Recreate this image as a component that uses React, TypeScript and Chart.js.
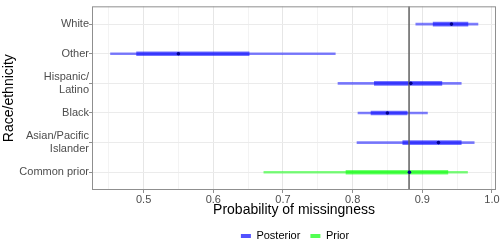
import React, { useEffect, useRef } from "react";
import { Chart, registerables } from "chart.js";

Chart.register(...registerables);

// ---- data ----
const categories: (string | string[])[] = [
  "White",
  "Other",
  ["Hispanic/", "Latino"],
  "Black",
  ["Asian/Pacific", "Islander"],
  "Common prior",
];
// posterior groups (indices 0..4), prior (index 5)
const outerLow = [0.8907, 0.4525, 0.779, 0.8077, 0.8063, 0.6726];
const outerHigh = [0.9799, 0.7751, 0.9559, 0.9074, 0.9745, 0.9649];
const innerLow = [0.9156, 0.4899, 0.8312, 0.8264, 0.872, 0.7905];
const innerHigh = [0.9655, 0.6514, 0.9281, 0.8782, 0.9559, 0.9367];
const medians = [0.9419, 0.5499, 0.8835, 0.8499, 0.9232, 0.8815];
const refLine = 0.881;
const xMajorTicks = [0.5, 0.6, 0.7, 0.8, 0.9, 1.0];
const xMinorTicks = [0.45, 0.55, 0.65, 0.75, 0.85, 0.95];
const legendLabels = ["Posterior", "Prior"];

const X_MIN = 0.4259;
const X_MAX = 1.0058;

const BLUE_THIN = "rgba(0,0,255,0.5)";
const BLUE_THICK = "rgba(0,0,255,0.55)";
const GREEN_THIN = "rgba(0,255,0,0.5)";
const GREEN_THICK = "rgba(0,255,0,0.55)";

const FONT = "'Liberation Sans', Arial, Helvetica, sans-serif";

export default function App() {
  const canvasRef = useRef<HTMLCanvasElement | null>(null);

  useEffect(() => {
    document.body.style.margin = "0";
    const canvas = canvasRef.current;
    if (!canvas) return;

    const postIdx = [0, 1, 2, 3, 4];
    const priorIdx = [5];

    const panelBorder = {
      id: "panelBorder",
      afterDraw(chart: any) {
        const { ctx, chartArea } = chart;
        ctx.save();
        ctx.strokeStyle = "#8f8f8f";
        ctx.lineWidth = 1;
        ctx.strokeRect(
          chartArea.left + 0.5,
          chartArea.top + 0.5,
          chartArea.right - chartArea.left - 1,
          chartArea.bottom - chartArea.top - 1
        );
        ctx.restore();
      },
    };

    const legendShift = {
      id: "legendShift",
      afterLayout(chart: any) {
        const lg = chart.legend;
        if (!lg) return;
        lg.left += 47;
        lg.right += 47;
        lg.top += 1.5;
        lg.bottom += 1.5;
      },
    };

    const chart = new Chart(canvas, {
      type: "bar",
      data: {
        datasets: [
          {
            type: "scatter",
            label: "median",
            data: medians.map((m, i) => ({ x: m, y: i })),
            pointRadius: 1.8,
            pointBackgroundColor: "#00008b",
            pointBorderWidth: 0,
            order: 0,
          } as any,
          {
            type: "line",
            label: "ref",
            data: [
              { x: refLine, y: -0.6 },
              { x: refLine, y: 5.6 },
            ],
            borderColor: "#5f5f5f",
            borderWidth: 1.5,
            pointRadius: 0,
            order: 1,
          } as any,
          {
            label: "postInner",
            data: postIdx.map((i) => ({ y: i, x: [innerLow[i], innerHigh[i]] })),
            backgroundColor: BLUE_THICK,
            barThickness: 4,
            grouped: false,
            order: 2,
          } as any,
          {
            label: "priorInner",
            data: priorIdx.map((i) => ({ y: i, x: [innerLow[i], innerHigh[i]] })),
            backgroundColor: GREEN_THICK,
            barThickness: 4,
            grouped: false,
            order: 2,
          } as any,
          {
            label: "postOuter",
            data: postIdx.map((i) => ({ y: i, x: [outerLow[i], outerHigh[i]] })),
            backgroundColor: BLUE_THIN,
            barThickness: 2,
            grouped: false,
            order: 3,
          } as any,
          {
            label: "priorOuter",
            data: priorIdx.map((i) => ({ y: i, x: [outerLow[i], outerHigh[i]] })),
            backgroundColor: GREEN_THIN,
            barThickness: 2,
            grouped: false,
            order: 3,
          } as any,
        ],
      },
      options: {
        animation: false,
        responsive: false,
        indexAxis: "y",
        layout: { padding: { top: 3, right: 4, left: 0, bottom: 0 } },
        plugins: {
          tooltip: { enabled: false },
          legend: {
            position: "bottom",
            labels: {
              boxWidth: 10,
              boxHeight: 4,
              padding: 10,
              color: "#000",
              font: { family: FONT, size: 11 },
              generateLabels: () => [
                {
                  text: legendLabels[0],
                  fillStyle: "rgba(0,0,255,0.68)",
                  strokeStyle: "rgba(0,0,255,0)",
                  lineWidth: 0,
                  hidden: false,
                  fontColor: "#000",
                } as any,
                {
                  text: legendLabels[1],
                  fillStyle: "rgba(0,255,0,0.68)",
                  strokeStyle: "rgba(0,255,0,0)",
                  lineWidth: 0,
                  hidden: false,
                  fontColor: "#000",
                } as any,
              ],
            },
          },
        },
        scales: {
          x: {
            type: "linear",
            min: X_MIN,
            max: X_MAX,
            offset: false,
            afterBuildTicks: (scale: any) => {
              scale.ticks = [...xMinorTicks, ...xMajorTicks]
                .sort((a, b) => a - b)
                .map((v) => ({ value: v }));
            },
            afterFit: (scale: any) => {
              scale.height = 29;
            },
            ticks: {
              autoSkip: false,
              maxRotation: 0,
              padding: 0,
              color: "#4d4d4d",
              font: { family: FONT, size: 11 },
              callback: (v: any) => {
                const n = Number(v);
                return xMajorTicks.some((t) => Math.abs(t - n) < 1e-6) ? n.toFixed(1) : "";
              },
            },
            grid: {
              offset: false,
              color: (ctx: any) => {
                const n = ctx.tick ? ctx.tick.value : 0;
                return xMajorTicks.some((t) => Math.abs(t - n) < 1e-6) ? "#e6e6e6" : "#f3f3f3";
              },
              tickColor: (ctx: any) => {
                const n = ctx.tick ? ctx.tick.value : 0;
                return xMajorTicks.some((t) => Math.abs(t - n) < 1e-6) ? "#8f8f8f" : "rgba(0,0,0,0)";
              },
              tickLength: 3,
              lineWidth: 1,
            },
            border: { display: false },
            title: {
              display: true,
              text: "Probability of missingness",
              color: "#000",
              font: { family: FONT, size: 14 },
              padding: { top: 0, bottom: 0.6 },
            },
          },
          y: {
            type: "linear",
            min: -0.6,
            max: 5.6,
            reverse: true,
            offset: false,
            afterBuildTicks: (scale: any) => {
              scale.ticks = categories.map((_, i) => ({ value: i }));
            },
            afterFit: (scale: any) => {
              scale.width = 92;
            },
            ticks: {
              autoSkip: false,
              padding: 0,
              color: "#4d4d4d",
              font: { family: FONT, size: 11, lineHeight: 1.15 },
              callback: (v: any) => categories[Math.round(Number(v))] as any,
            },
            grid: {
              offset: false,
              color: "#ebebeb",
              tickColor: "#8f8f8f",
              tickLength: 3,
              lineWidth: 1,
            },
            border: { display: false },
            title: {
              display: true,
              text: "Race/ethnicity",
              color: "#000",
              font: { family: FONT, size: 14 },
              padding: { top: 0.6, bottom: 0 },
            },
          },
        },
      } as any,
      plugins: [legendShift, panelBorder],
    });

    return () => {
      chart.destroy();
    };
  }, []);

  return (
    <div style={{ width: 500, height: 250 }}>
      <canvas ref={canvasRef} width={500} height={250} style={{ display: "block" }} />
    </div>
  );
}
